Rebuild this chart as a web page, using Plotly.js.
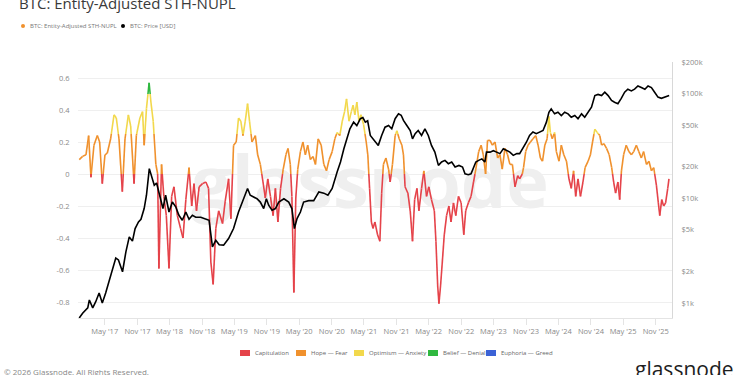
<!DOCTYPE html>
<html>
<head>
<meta charset="utf-8">
<script src="https://cdn.plot.ly/plotly-3.0.1.min.js"></script>
<style>
html,body{margin:0;padding:0;background:#fff;}
#chart{width:750px;height:375px;}
</style>
</head>
<body>
<div id="chart"></div>
<script>
// ---------- DATA ----------
const nuplDates = [
'2016-12-08','2016-12-27','2017-01-15','2017-01-30','2017-02-12','2017-03-01','2017-03-20','2017-04-02','2017-04-17','2017-05-02',
'2017-05-15','2017-06-03','2017-06-22','2017-07-05','2017-07-20','2017-08-08','2017-08-23','2017-09-11','2017-09-24','2017-10-13',
'2017-10-26','2017-11-15','2017-11-30','2017-12-09','2017-12-22','2018-01-06','2018-01-16','2018-01-29','2018-02-13','2018-02-23',
'2018-03-02','2018-03-17','2018-03-30','2018-04-13','2018-04-28','2018-05-13','2018-05-26','2018-06-14','2018-07-02','2018-07-16',
'2018-08-01','2018-08-19','2018-09-03','2018-09-16','2018-09-30','2018-10-15','2018-11-03','2018-11-22','2018-12-07','2018-12-20',
'2019-01-02','2019-01-17','2019-02-02','2019-02-24','2019-03-11','2019-03-30','2019-04-12','2019-04-27','2019-05-12','2019-05-25',
'2019-06-07','2019-06-19','2019-07-02','2019-07-15','2019-07-26','2019-08-09','2019-08-28','2019-09-10','2019-09-25','2019-10-10',
'2019-10-23','2019-11-06','2019-11-21','2019-12-06','2019-12-19','2020-01-02','2020-01-17','2020-02-01','2020-02-16','2020-02-28',
'2020-03-12','2020-03-21','2020-04-01','2020-04-12','2020-04-23','2020-05-08','2020-05-22','2020-06-05','2020-06-18','2020-07-03',
'2020-07-18','2020-08-01','2020-08-16','2020-09-02','2020-09-17','2020-10-02','2020-10-17','2020-11-03','2020-11-18','2020-12-01',
'2020-12-16','2020-12-30','2021-01-12','2021-01-23','2021-02-06','2021-02-19','2021-03-01','2021-03-11','2021-03-22','2021-04-03',
'2021-04-14','2021-04-29','2021-05-14','2021-05-23','2021-06-02','2021-06-12','2021-06-21','2021-07-02','2021-07-17','2021-07-30',
'2021-08-09','2021-08-19','2021-09-02','2021-09-17','2021-09-26','2021-10-09','2021-10-24','2021-11-03','2021-11-16','2021-12-01',
'2021-12-10','2021-12-19','2022-01-04','2022-01-17','2022-01-30','2022-02-11','2022-02-24','2022-03-07','2022-03-22','2022-04-04',
'2022-04-19','2022-05-02','2022-05-17','2022-06-02','2022-06-11','2022-06-21','2022-06-28','2022-07-07','2022-07-17','2022-07-28',
'2022-08-10','2022-08-23','2022-09-04','2022-09-18','2022-10-01','2022-10-16','2022-10-31','2022-11-15','2022-11-26','2022-12-11',
'2022-12-26','2023-01-09','2023-01-22','2023-02-07','2023-02-21','2023-03-05','2023-03-18','2023-03-29','2023-04-12','2023-04-25',
'2023-05-10','2023-05-25','2023-06-07','2023-06-20','2023-07-05','2023-07-20','2023-08-02','2023-08-16','2023-08-31','2023-09-15',
'2023-09-26','2023-10-11','2023-10-18','2023-10-30','2023-11-12','2023-11-26','2023-12-10','2023-12-26','2024-01-08','2024-01-21',
'2024-02-02','2024-02-15','2024-02-28','2024-03-09','2024-03-17','2024-03-28','2024-04-10','2024-04-20','2024-05-05','2024-05-18',
'2024-06-01','2024-06-16','2024-06-30','2024-07-13','2024-07-26','2024-08-07','2024-08-20','2024-09-03','2024-09-17','2024-09-29',
'2024-10-16','2024-10-29','2024-11-10','2024-11-23','2024-12-06','2024-12-21','2024-12-31','2025-01-13','2025-01-28','2025-02-12',
'2025-02-26','2025-03-09','2025-03-20','2025-04-02','2025-04-12','2025-04-22','2025-05-04','2025-05-19','2025-06-03','2025-06-17',
'2025-06-30','2025-07-15','2025-07-29','2025-08-12','2025-08-25','2025-09-10','2025-09-24','2025-10-08','2025-10-21','2025-11-05',
'2025-11-16','2025-11-24','2025-12-05','2025-12-16','2025-12-27','2026-01-08','2026-01-15'
];
const nuplValues = [
0.09,0.11,0.12,0.24,-0.02,0.18,0.24,0.20,-0.06,0.12,
0.13,0.22,0.37,0.35,0.22,-0.11,0.22,0.37,0.30,-0.06,
0.24,0.35,0.39,0.18,0.41,0.57,0.45,0.33,0.06,0.00,
-0.59,0.06,-0.14,-0.26,-0.59,-0.14,-0.08,-0.26,-0.34,-0.40,
-0.16,0.04,-0.20,-0.06,-0.23,-0.08,-0.06,-0.05,-0.09,-0.55,
-0.69,-0.34,-0.23,-0.31,-0.17,-0.03,-0.28,0.18,0.20,0.35,
0.33,0.24,0.33,0.44,0.33,0.20,0.24,0.12,0.06,-0.05,
-0.15,-0.03,-0.14,-0.26,-0.09,-0.30,-0.09,0.03,0.12,0.16,
0.06,-0.14,-0.74,-0.15,0.03,0.14,0.20,0.12,0.18,0.09,
0.11,0.06,0.22,0.18,0.06,0.02,0.09,0.14,0.22,0.26,
0.24,0.33,0.39,0.47,0.33,0.39,0.43,0.37,0.45,0.33,
0.37,0.31,0.20,0.12,-0.09,-0.30,-0.34,-0.30,-0.38,-0.42,
-0.12,0.06,0.10,0.03,-0.05,0.06,0.24,0.27,0.22,0.18,
0.12,-0.08,-0.12,-0.23,-0.42,-0.16,-0.09,-0.23,-0.09,0.02,
-0.14,-0.08,-0.16,-0.23,-0.42,-0.70,-0.81,-0.70,-0.55,-0.38,
-0.26,-0.20,-0.30,-0.18,-0.26,-0.14,-0.18,-0.38,-0.23,-0.18,
-0.14,-0.05,0.03,0.14,0.18,0.12,0.00,0.21,0.21,0.18,
0.20,0.10,0.12,0.03,0.16,0.12,0.06,0.06,-0.08,-0.01,
-0.03,0.00,0.04,0.14,0.18,0.20,0.22,0.24,0.18,0.10,
0.08,0.18,0.22,0.36,0.26,0.22,0.26,0.14,0.08,0.18,
0.12,0.08,-0.03,-0.09,0.02,-0.14,-0.03,-0.14,-0.05,0.04,
0.08,0.12,0.20,0.28,0.26,0.24,0.18,0.19,0.16,0.12,
0.04,-0.05,-0.12,-0.05,-0.16,0.02,0.12,0.18,0.14,0.12,
0.14,0.18,0.14,0.10,0.14,0.06,0.08,0.02,0.04,-0.07,
-0.18,-0.26,-0.16,-0.20,-0.18,-0.09,-0.03
];

const priceDates = [
'2016-12-08','2016-12-27','2017-01-25','2017-02-03','2017-02-22','2017-03-11','2017-03-30','2017-04-17','2017-05-06','2017-05-25',
'2017-06-13','2017-07-02','2017-07-17','2017-08-09','2017-08-28','2017-09-16','2017-10-04','2017-10-19','2017-11-07','2017-11-21',
'2017-12-09','2017-12-22','2018-01-07','2018-01-22','2018-02-04','2018-02-17','2018-03-02','2018-03-25','2018-04-09','2018-04-28',
'2018-05-17','2018-06-05','2018-06-23','2018-07-12','2018-08-01','2018-08-19','2018-09-07','2018-09-26','2018-10-24','2018-11-22',
'2018-12-10','2018-12-29','2019-01-17','2019-02-05','2019-03-02','2019-03-30','2019-04-27','2019-05-25','2019-06-23','2019-07-15',
'2019-07-30','2019-08-18','2019-09-06','2019-09-25','2019-10-14','2019-10-29','2019-11-11','2019-11-30','2019-12-19','2020-01-07',
'2020-02-05','2020-03-03','2020-03-21','2020-04-04','2020-04-19','2020-05-08','2020-05-26','2020-06-24','2020-07-22','2020-08-20',
'2020-09-17','2020-10-10','2020-11-03','2020-12-01','2020-12-20','2021-01-08','2021-01-23','2021-02-11','2021-03-04','2021-03-22',
'2021-04-11','2021-04-25','2021-05-09','2021-05-22','2021-06-06','2021-06-21','2021-07-02','2021-07-21','2021-08-09','2021-08-28',
'2021-09-17','2021-10-05','2021-10-24','2021-11-12','2021-11-27','2021-12-10','2021-12-29','2022-01-17','2022-01-30','2022-02-14',
'2022-03-03','2022-03-22','2022-04-10','2022-04-29','2022-05-17','2022-06-05','2022-06-25','2022-07-13','2022-08-01','2022-08-20',
'2022-09-08','2022-09-27','2022-10-19','2022-11-08','2022-11-22','2022-12-11','2022-12-26','2023-01-22','2023-02-07','2023-02-25',
'2023-03-14','2023-03-23','2023-04-12','2023-05-01','2023-05-19','2023-06-07','2023-06-26','2023-07-14','2023-08-02','2023-08-21',
'2023-09-10','2023-09-26','2023-10-14','2023-11-03','2023-11-21','2023-12-10','2023-12-29','2024-01-17','2024-02-05','2024-02-24',
'2024-03-09','2024-03-22','2024-04-10','2024-04-29','2024-05-18','2024-06-06','2024-06-25','2024-07-13','2024-08-02','2024-08-20',
'2024-09-09','2024-09-27','2024-10-16','2024-11-04','2024-11-23','2024-12-11','2024-12-31','2025-01-18','2025-02-06','2025-02-25',
'2025-03-14','2025-04-02','2025-04-21','2025-05-10','2025-05-28','2025-06-17','2025-07-05','2025-07-24','2025-08-12','2025-09-01',
'2025-09-19','2025-10-08','2025-10-26','2025-11-14','2025-12-03','2025-12-22','2026-01-16'
];
const priceValues = [
720,800,900,1070,900,1030,1245,1000,1245,1600,
1990,2690,2580,1990,3080,4280,3900,5140,5950,6300,
7980,10700,19200,15500,13300,14000,11500,7980,10700,7400,
9200,8300,6880,6170,7400,6300,6880,6600,6600,6300,
6170,3440,3980,3600,3570,4130,5140,7400,9930,12400,
10700,10300,9900,9200,7980,9900,8600,7680,7980,9200,
9900,9200,7980,5140,6400,7400,9200,9500,9500,11500,
11200,10700,12400,17800,22200,29700,36900,46000,53300,49500,
57500,59000,53300,55000,39800,36900,34300,32000,39800,47700,
49500,46000,57500,64000,62000,55400,49500,44400,36900,41400,
44400,39800,46000,39800,32000,27600,20600,22200,23000,21400,
22200,19900,20600,19900,17100,16800,17100,22200,23000,23800,
22200,27600,27600,28500,27600,26700,29700,28500,27600,25700,
26700,26700,29700,34300,39800,42900,41400,42900,44400,53300,
66300,71400,64000,66300,61700,66300,64000,59400,61700,57500,
64000,59400,66300,74000,95600,98000,95600,103000,95600,86000,
82600,80000,90000,103000,110000,106000,110000,118000,114000,110000,
118000,114000,103000,92500,90000,92500,95600
];

const bandEdges  = [0, 0.25, 0.5, 0.75];
const bandNames  = ['Capitulation','Hope — Fear','Optimism — Anxiety','Belief — Denial','Euphoria — Greed'];
const bandColors = ['#e5434a','#f0912d','#f2d84c','#2fb83f','#3b62d6'];

const leftTickVals  = [-0.8,-0.6,-0.4,-0.2,0,0.2,0.4,0.6];
const leftTickText  = ['-0.8','-0.6','-0.4','-0.2','0','0.2','0.4','0.6'];
const rightTickVals = [1000,2000,5000,10000,20000,50000,100000,200000];
const rightTickText = ['$1k','$2k','$5k','$10k','$20k','$50k','$100k','$200k'];

const seriesNames = ['BTC: Entity-Adjusted STH-NUPL','BTC: Price [USD]'];
const seriesColors = ['#f0912d','#000000'];

// ---------- build band-coloured line traces ----------
function toMs(s){ const p=s.split('-').map(Number); return Date.UTC(p[0],p[1]-1,p[2]); }
function bandOf(v){ let b=0; for(const e of bandEdges){ if(v>=e) b++; } return b; }

const bandX = bandColors.map(()=>[]), bandY = bandColors.map(()=>[]);
const lastEnd = bandColors.map(()=>null);
for(let i=0;i<nuplValues.length-1;i++){
  const t0=toMs(nuplDates[i]), t1=toMs(nuplDates[i+1]);
  const v0=nuplValues[i], v1=nuplValues[i+1];
  const pts=[[t0,v0]];
  const cross=[];
  for(const e of bandEdges){
    if((v0<e && v1>e) || (v0>e && v1<e)){
      cross.push([t0+(e-v0)/(v1-v0)*(t1-t0), e]);
    }
  }
  cross.sort((a,b)=>a[0]-b[0]);
  pts.push(...cross); pts.push([t1,v1]);
  for(let k=0;k<pts.length-1;k++){
    const a=pts[k], b=pts[k+1];
    const band=bandOf((a[1]+b[1])/2);
    if(lastEnd[band]!==a){
      if(bandX[band].length){ bandX[band].push(null); bandY[band].push(null); }
      bandX[band].push(a[0]); bandY[band].push(a[1]);
    }
    bandX[band].push(b[0]); bandY[band].push(b[1]);
    lastEnd[band]=b;
  }
}

const traces=[];
bandColors.forEach((c,i)=>{
  traces.push({x:bandX[i], y:bandY[i], type:'scatter', mode:'lines', name:bandNames[i],
    line:{color:c, width:1.6}, connectgaps:false, showlegend:false, hoverinfo:'skip'});
});
traces.push({x:priceDates, y:priceValues, type:'scatter', mode:'lines', name:seriesNames[1],
  yaxis:'y2', line:{color:seriesColors[1], width:1.6}, showlegend:false, hoverinfo:'skip'});

// ---------- layout helpers (pixel -> paper) ----------
const L=78, R=672, T=62, B=318;
const px=x=>(x-L)/(R-L), py=y=>(B-y)/(B-T);

const font='"Open Sans", "Noto Sans", sans-serif';
const annotations=[], shapes=[];

// watermark (below traces)
shapes.push({type:'rect', xref:'paper', yref:'paper', x0:px(180), x1:px(560), y0:py(217), y1:py(152),
  layer:'below', line:{width:0}, fillcolor:'rgba(0,0,0,0)',
  label:{text:'<b>glassnode</b>', font:{family:font, size:72, color:'#efefef'}, textposition:'middle center'}});

// top legend
const topLeg=[[23,28],[123,128]];
seriesNames.forEach((n,i)=>{
  shapes.push({type:'circle', xref:'paper', yref:'paper', x0:px(topLeg[i][0]-2), x1:px(topLeg[i][0]+2),
    y0:py(28), y1:py(24), line:{width:0}, fillcolor:seriesColors[i]});
  annotations.push({xref:'paper', yref:'paper', x:px(topLeg[i][1]), y:py(26), xanchor:'left', yanchor:'middle',
    text:n, showarrow:false, font:{family:font, size:6, color:'#777'}});
});

// bottom legend
const botSq=[240,296,354,428,486];
bandNames.forEach((n,i)=>{
  shapes.push({type:'rect', xref:'paper', yref:'paper', x0:px(botSq[i]), x1:px(botSq[i]+10),
    y0:py(356), y1:py(350), line:{width:0}, fillcolor:bandColors[i]});
  annotations.push({xref:'paper', yref:'paper', x:px(botSq[i]+13), y:py(353), xanchor:'left', yanchor:'middle',
    text:n, showarrow:false, font:{family:font, size:6, color:'#666'}});
});

// footer
annotations.push({xref:'paper', yref:'paper', x:px(2), y:py(371), xanchor:'left', yanchor:'middle',
  text:'© 2026 Glassnode. All Rights Reserved.', showarrow:false, font:{family:font, size:8, color:'#888'}});
annotations.push({xref:'paper', yref:'paper', x:px(736), y:py(369), xanchor:'right', yanchor:'middle',
  text:'glassnode', showarrow:false, font:{family:font, size:21, color:'#1e1e1e'}});

const layout={
  width:750, height:375,
  margin:{l:L, r:750-R, t:T, b:375-B},
  paper_bgcolor:'#fff', plot_bgcolor:'#fff',
  font:{family:font},
  showlegend:false,
  title:{text:'BTC: Entity-Adjusted STH-NUPL', x:19/750, xanchor:'left', xref:'container',
    y:0.991, yanchor:'middle', yref:'container', font:{family:font, size:15, color:'#3a3a3a'}},
  xaxis:{type:'date', range:['2016-12-01','2026-02-01'], tick0:'2017-05-01', dtick:'M6',
    tickformat:"%b '%y", showgrid:false, zeroline:false, showline:true, linecolor:'#e4e4e4', linewidth:1,
    ticks:'outside', ticklen:6, tickcolor:'#e4e4e4', tickfont:{family:font, size:7.5, color:'#8a8a8a'}},
  yaxis:{range:[-0.9,0.7], tickvals:leftTickVals, ticktext:leftTickText, showgrid:true, gridcolor:'#efefef',
    zeroline:false, showline:false, ticks:'outside', ticklen:6, tickcolor:'rgba(0,0,0,0)',
    tickfont:{family:font, size:7.5, color:'#8a8a8a'}},
  yaxis2:{overlaying:'y', side:'right', type:'log', range:[Math.log10(720), Math.log10(200000)],
    tickvals:rightTickVals, ticktext:rightTickText, showgrid:false, zeroline:false,
    showline:true, linecolor:'#d8d8d8', linewidth:1, ticks:'outside', ticklen:7, tickcolor:'rgba(0,0,0,0)',
    tickfont:{family:font, size:7.5, color:'#8a8a8a'}},
  shapes:shapes, annotations:annotations
};

Plotly.newPlot('chart', traces, layout, {staticPlot:true, displayModeBar:false});
</script>
</body>
</html>
